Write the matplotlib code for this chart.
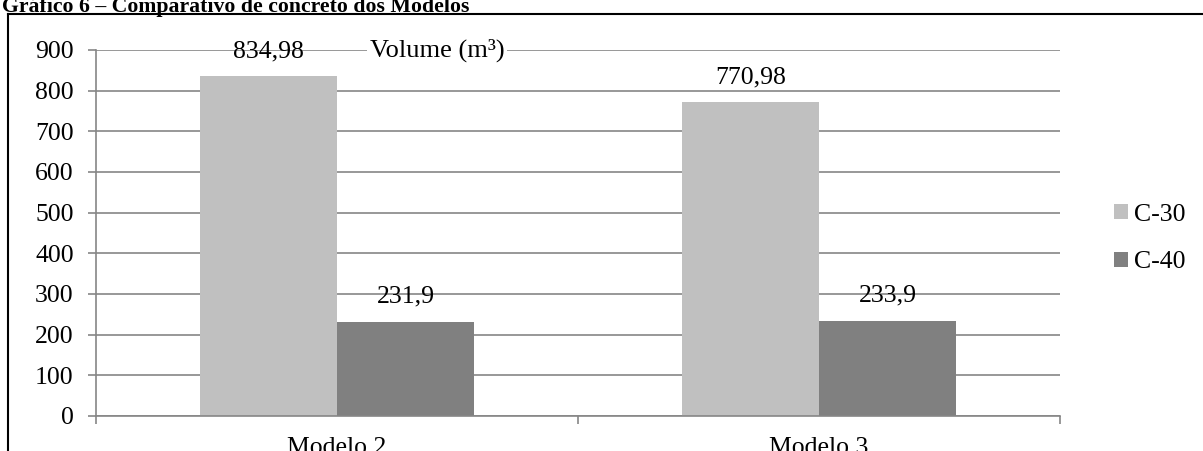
import matplotlib.pyplot as plt
import numpy as np
from matplotlib.lines import Line2D

plt.rcParams['font.family'] = ['Liberation Serif', 'DejaVu Serif']

modelos = ['Modelo 2', 'Modelo 3']
series = ['C-30', 'C-40']
c30 = [834.98, 770.98]
c40 = [231.9, 233.9]
rotulos_c30 = ['834,98', '770,98']
rotulos_c40 = ['231,9', '233,9']
cores = ['#c0c0c0', '#808080']
yticks = [0, 100, 200, 300, 400, 500, 600, 700, 800, 900]

fs = 18.5

fig = plt.figure(figsize=(12.03, 4.51), dpi=100)
ax = fig.add_axes([96 / 1203, 35 / 451, 964 / 1203, 366 / 451])

x = np.arange(len(modelos))
w = 0.284
b1 = ax.bar(x - w / 2, c30, w, color=cores[0], label=series[0], zorder=2)
b2 = ax.bar(x + w / 2, c40, w, color=cores[1], label=series[1], zorder=2)

for bars, rot in ((b1, rotulos_c30), (b2, rotulos_c40)):
    for r, t in zip(bars, rot):
        ax.annotate(t, (r.get_x() + r.get_width() / 2, r.get_height()),
                    xytext=(0, 18), textcoords='offset points',
                    ha='center', va='center', fontsize=fs, zorder=3)

ax.set_xlim(-0.5, 1.5)
ax.set_ylim(0, 900)
ax.set_yticks(yticks)
ax.yaxis.grid(True, color='#868686', linewidth=1.2, zorder=0)
ax.set_axisbelow(True)
ax.tick_params(axis='y', length=6, width=1.2, color='#868686', labelsize=fs, pad=10)

ax.set_xticks([-0.5, 0.5, 1.5])
ax.set_xticklabels([])
ax.tick_params(axis='x', length=6, width=1.2, color='#868686')
for xi, m in zip(x, modelos):
    ax.text(xi, -38 / 366, m, transform=ax.get_xaxis_transform(),
            ha='center', va='baseline', fontsize=fs)

for s in ('top', 'right'):
    ax.spines[s].set_visible(False)
for s in ('left', 'bottom'):
    ax.spines[s].set_color('#868686')
    ax.spines[s].set_linewidth(1.2)

ax.text(0.354, 1.0, 'Volume (m³)', transform=ax.transAxes, ha='center', va='center',
        fontsize=19, zorder=4,
        bbox=dict(facecolor='white', edgecolor='none', pad=2))

ax.legend(loc='center left', bbox_to_anchor=(1.045, 0.485), frameon=False, fontsize=fs,
          handlelength=0.55, handleheight=0.55, handletextpad=0.25, labelspacing=1.0,
          borderaxespad=0)

# moldura e título
fig.add_artist(Line2D([8 / 1203, 1], [1 - 14 / 451, 1 - 14 / 451], color='black', lw=1.5))
fig.add_artist(Line2D([8 / 1203, 8 / 1203], [0, 1 - 14 / 451], color='black', lw=1.5))
fig.text(2 / 1203, 1 - 12 / 451, 'Gráfico 6 – Comparativo de concreto dos Modelos',
         fontsize=15.7, fontweight='bold', ha='left', va='baseline')

fig.savefig('out.png', dpi=100)
